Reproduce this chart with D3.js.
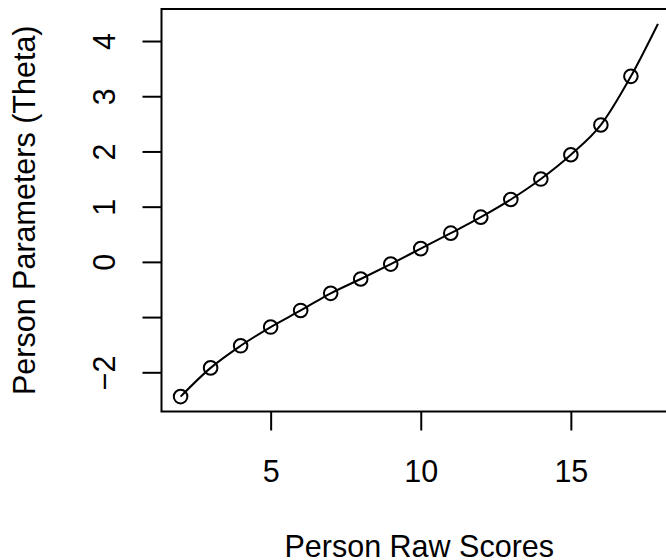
<!DOCTYPE html>
<html>
<head>
<meta charset="utf-8">
<script src="https://cdn.jsdelivr.net/npm/d3@7"></script>
<style>
  body { margin: 0; background: #fff; }
  svg text { font-family: "Liberation Sans", Arial, sans-serif; fill: #000; }
</style>
</head>
<body>
<div id="chart"></div>
<script>
// Raw scores and the estimated person parameters
var rawScores = [2, 3, 4, 5, 6, 7, 8, 9, 10, 11, 12, 13, 14, 15, 16, 17];
var theta = [-2.44, -1.92, -1.52, -1.18, -0.88, -0.57, -0.31, -0.04, 0.24, 0.52, 0.81, 1.13, 1.50, 1.94, 2.48, 3.36];
// the interpolated curve runs on past the last point
var curveEndX = 17.9;
var curveEndY = 4.31;

var xTicks = [5, 10, 15];
var yTicks = [-2, -1, 0, 1, 2, 3, 4];
var yTickLabels = ["\u22122", "", "0", "1", "2", "3", "4"];

var xTitle = "Person Raw Scores";
var yTitle = "Person Parameters (Theta)";

// SVG area
var svgWidth = 666;
var svgHeight = 560;

// plot region (right edge falls outside the picture, like the original)
var plot = { left: 161.5, top: 9, right: 677, bottom: 411.5 };
var fontSize = 30.5;

var svg = d3
  .select("#chart")
  .append("svg")
  .attr("width", svgWidth)
  .attr("height", svgHeight);

svg.append("rect")
  .attr("width", svgWidth)
  .attr("height", svgHeight)
  .attr("fill", "#fff");

// R style 4% padding on each side of the data range
function padded(lo, hi) {
  var d = (hi - lo) * 0.04;
  return [lo - d, hi + d];
}

var xScale = d3.scaleLinear()
  .domain(padded(d3.min(rawScores), curveEndX))
  .range([plot.left, plot.right]);

var yScale = d3.scaleLinear()
  .domain(padded(d3.min(theta), curveEndY))
  .range([plot.bottom, plot.top]);

// curve + points
var linePts = rawScores.map(function(d, i) { return [d, theta[i]]; });
linePts.push([curveEndX, curveEndY]);

var line = d3.line()
  .x(d => xScale(d[0]))
  .y(d => yScale(d[1]))
  .curve(d3.curveMonotoneX);

svg.append("path")
  .datum(linePts)
  .attr("d", line)
  .attr("fill", "none")
  .attr("stroke", "#000")
  .attr("stroke-width", 2);

svg.selectAll("circle.pt")
  .data(rawScores)
  .enter()
  .append("circle")
  .attr("class", "pt")
  .attr("cx", d => xScale(d))
  .attr("cy", (d, i) => yScale(theta[i]))
  .attr("r", 6.8)
  .attr("fill", "none")
  .attr("stroke", "#000")
  .attr("stroke-width", 2);

// box
svg.append("rect")
  .attr("x", plot.left)
  .attr("y", plot.top)
  .attr("width", plot.right - plot.left)
  .attr("height", plot.bottom - plot.top)
  .attr("fill", "none")
  .attr("stroke", "#000")
  .attr("stroke-width", 2);

// x axis
var bottomAxis = d3.axisBottom(xScale)
  .tickValues(xTicks)
  .tickSize(19)
  .tickPadding(21);

var xAxis = svg.append("g")
  .attr("transform", `translate(0, ${plot.bottom})`)
  .call(bottomAxis);
xAxis.select(".domain").remove();
xAxis.selectAll("line").attr("stroke-width", 2);
xAxis.selectAll("text")
  .attr("font-size", fontSize)
  .attr("font-family", null)
  .attr("dy", null)
  .attr("y", 482 - plot.bottom);

// y axis
var leftAxis = d3.axisLeft(yScale)
  .tickValues(yTicks)
  .tickFormat((d, i) => yTickLabels[i])
  .tickSize(19);

var yAxis = svg.append("g")
  .attr("transform", `translate(${plot.left}, 0)`)
  .call(leftAxis);
yAxis.select(".domain").remove();
yAxis.selectAll("line").attr("stroke-width", 2);
yAxis.selectAll("text")
  .attr("font-size", fontSize)
  .attr("font-family", null)
  .attr("x", null)
  .attr("dy", null)
  .attr("text-anchor", "middle")
  .attr("transform", "translate(" + (115 - plot.left) + ",0) rotate(-90)");

// axis titles
svg.append("text")
  .attr("x", (plot.left + plot.right) / 2)
  .attr("y", 557)
  .attr("text-anchor", "middle")
  .attr("font-size", fontSize)
  .text(xTitle);

svg.append("text")
  .attr("transform", `translate(35, ${(plot.top + plot.bottom) / 2}) rotate(-90)`)
  .attr("text-anchor", "middle")
  .attr("font-size", fontSize)
  .text(yTitle);
</script>
</body>
</html>
